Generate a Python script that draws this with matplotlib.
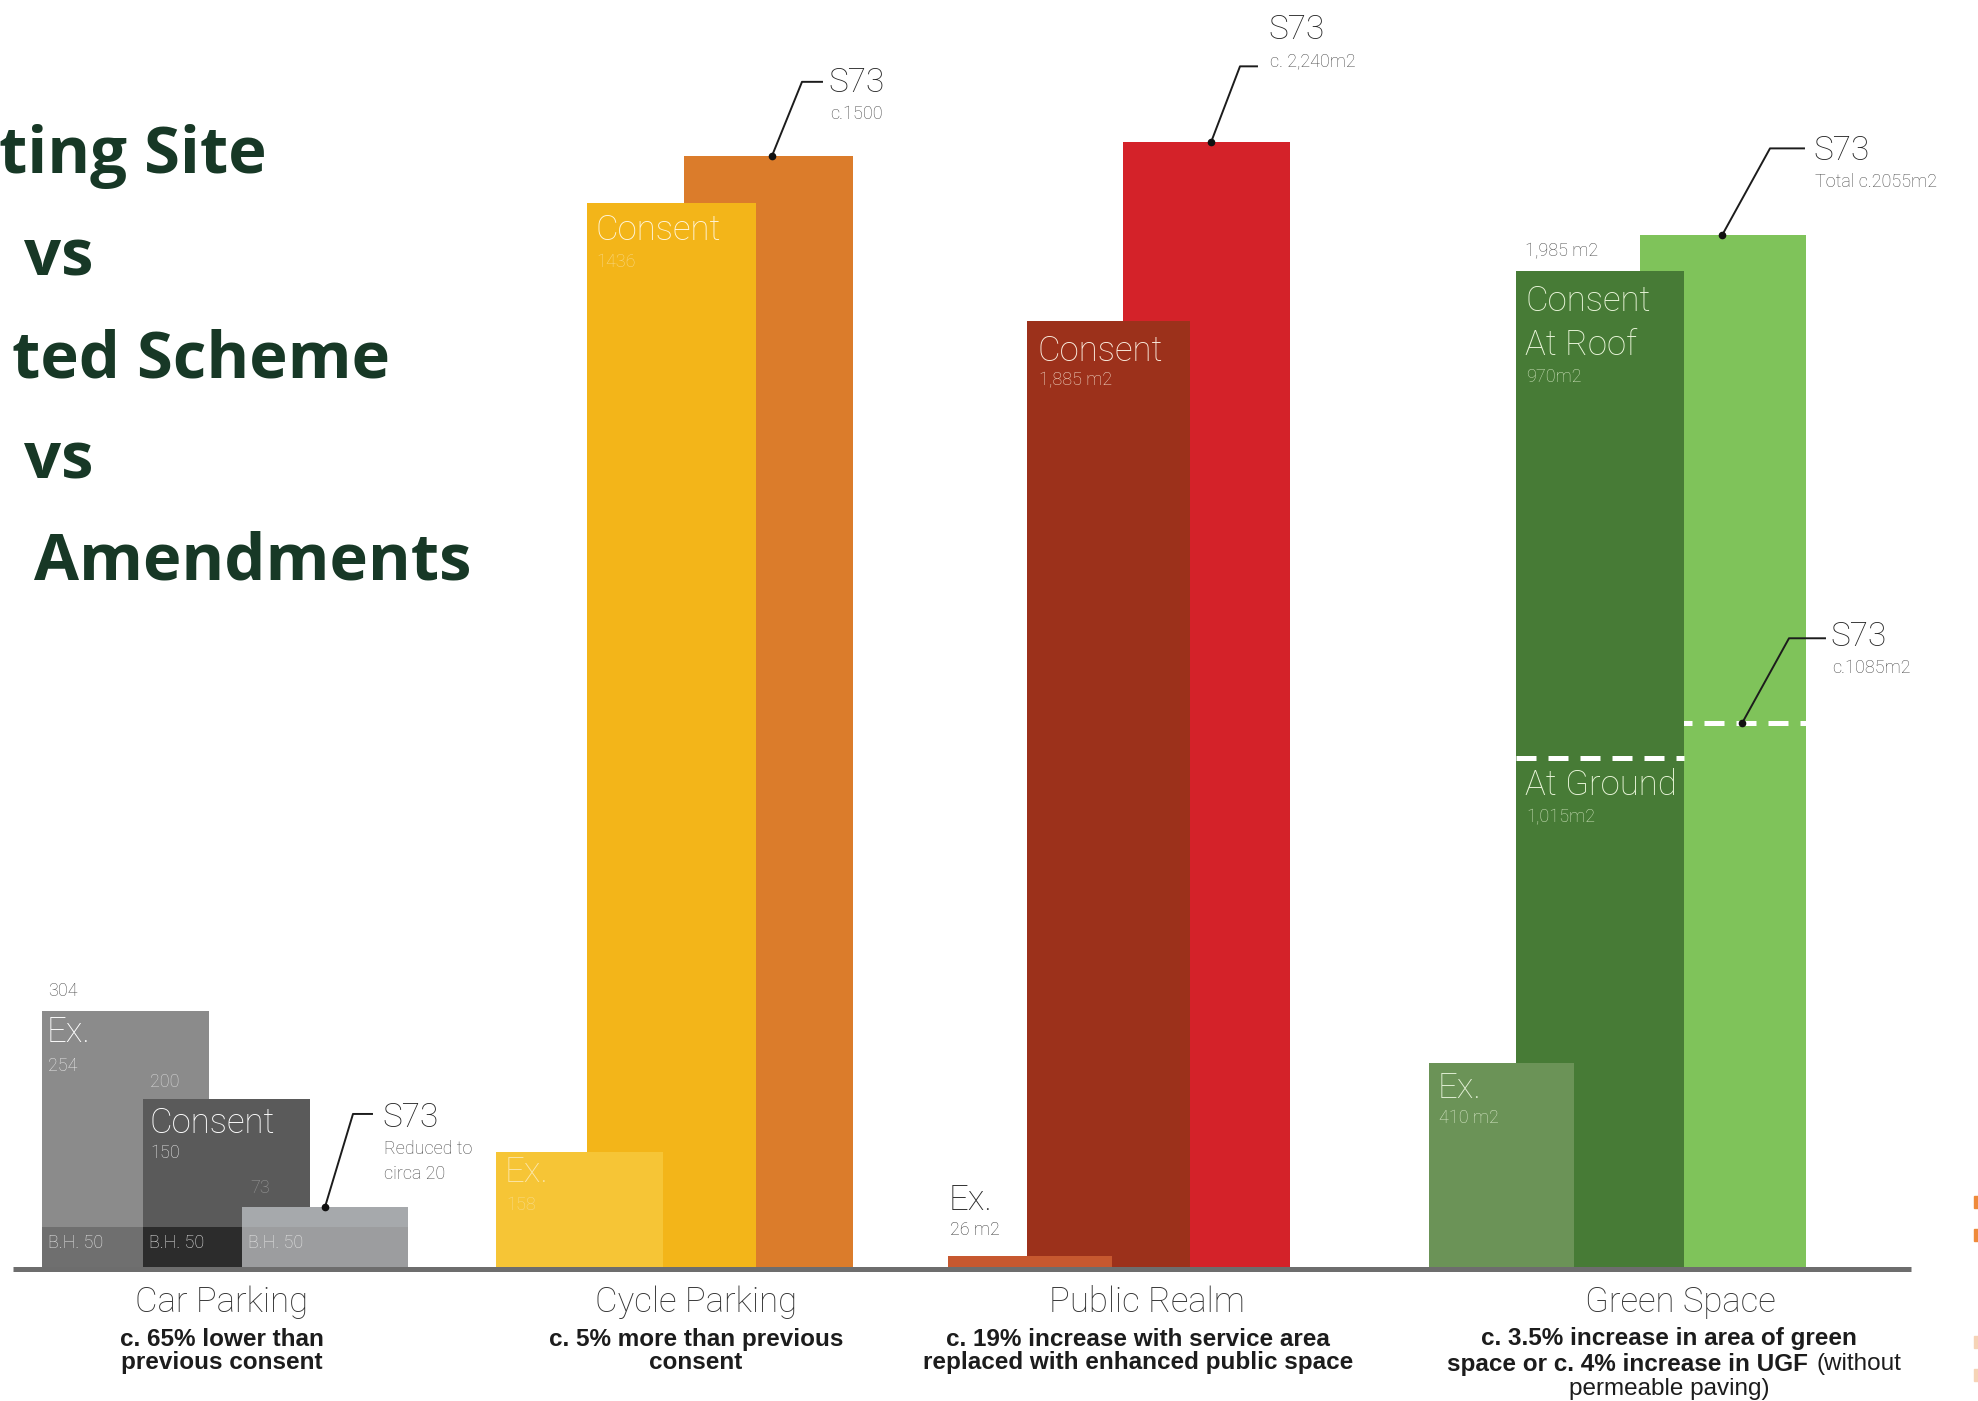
import matplotlib
matplotlib.use("Agg")
import matplotlib.pyplot as plt
from matplotlib.lines import Line2D
from matplotlib.patches import Rectangle
from matplotlib.transforms import IdentityTransform

W, H, DPI = 1978, 1401, 100
BASE = 1269  # baseline, pixels from top of the picture

# ---------------- data ----------------
groups = ["Car Parking", "Cycle Parking", "Public Realm", "Green Space"]
notes = ["c. 65% lower than\nprevious consent",
         "c. 5% more than previous\nconsent",
         "c. 19% increase with service area\nreplaced with enhanced public space"]
green_note_bold = ["c. 3.5% increase in area of green", "space or c. 4% increase in UGF"]
green_note_plain = ["(without", "permeable paving)"]

car_values = [304, 200, 73]        # Ex., Consent, S73 (spaces)
car_bh = [50, 50, 50]              # blue-badge share
cycle_values = [158, 1436, 1500]   # Ex., Consent, S73
realm_values = [26, 1885, 2240]    # m2
green_values = [410, 1985, 2055]   # m2
green_ground = [1015, 1085]        # Consent, S73 at ground level

# ---------------- layout / style ----------------
car_left, car_w = [42, 143, 242], [167, 167, 166]
cyc_left, cyc_w = [496, 587, 684], [167, 169, 169]
rlm_left, rlm_w = [948, 1027, 1123], [164, 163, 167]
grn_left, grn_w = [1429, 1516, 1640], [145, 168, 166]

car_col = ["#8b8b8b", "#5a5a5a", "#a6a9ac"]
car_bh_col = ["#6f6f6f", "#2c2c2c", "#9c9d9f"]
cyc_col = ["#f6c536", "#f3b519", "#db7c2b"]
rlm_col = ["#c7582f", "#9c311b", "#d42229"]
grn_col = ["#6b9357", "#477b36", "#7fc35a"]

LIGHT = dict(fontfamily="Roboto", fontweight="light")

fig = plt.figure(figsize=(W / DPI, H / DPI), dpi=DPI)
fig.patch.set_facecolor("white")


def panel(name, ymax):
    ax = fig.add_axes([0, 1 - BASE / H, 1, BASE / H], label=name)
    ax.set_xlim(0, W)
    ax.set_ylim(0, ymax)
    ax.axis("off")
    ax.patch.set_alpha(0)
    return ax


def lab(ax, s, x, y, dx, dy, size, color, **kw):
    style = dict(LIGHT)
    style.update(kw)
    ax.annotate(s, (x, y), xytext=(dx, dy), textcoords="offset pixels",
                ha="left", va="center", fontsize=size, color=color,
                annotation_clip=False, zorder=10, **style)


def leader(ax, x, y, pts):
    px, py = ax.transData.transform((x, y))
    xs = [px] + [px + a for a, b in pts]
    ys = [py] + [py + b for a, b in pts]
    fig.add_artist(Line2D(xs, ys, transform=IdentityTransform(), color="#1c1c1c", lw=1.4, zorder=20))
    fig.add_artist(Line2D([px], [py], transform=IdentityTransform(), marker="o", ms=4.5,
                          color="#111111", zorder=21))


def s73_label(ax, x, y, dot_dx, corner, end, tx, ty, sub):
    leader(ax, x + dot_dx, y, [corner, end])
    lab(ax, "S73", x + dot_dx, y, tx, ty, 24, "#262626")
    for i, line in enumerate(sub):
        lab(ax, line, x + dot_dx, y, tx + 2, ty - 31 - 25 * i, 13, "#4a4a4a")


# ---------------- car parking ----------------
ax = panel("car", 1493)
for i in range(3):
    ax.bar(car_left[i], car_values[i], width=car_w[i], align="edge", color=car_col[i], zorder=1 + i)
    ax.bar(car_left[i], car_bh[i], width=car_w[i], align="edge", color=car_bh_col[i], zorder=1.5 + i)
    lab(ax, "B.H. %d" % car_bh[i], car_left[i], car_bh[i], 6, -16, 13, "#e6e6e6")
lab(ax, str(car_values[0]), car_left[0], car_values[0], 6, 20, 13, "#4a4a4a")
lab(ax, "Ex.", car_left[0], car_values[0], 5, -22, 25, "white")
lab(ax, str(car_values[0] - car_bh[0]), car_left[0], car_values[0], 6, -55, 13, "#e8e8e8")
lab(ax, str(car_values[1]), car_left[1], car_values[1], 7, 17, 13, "#d9d9d9")
lab(ax, "Consent", car_left[1], car_values[1], 6, -24, 25, "white")
lab(ax, str(car_values[1] - car_bh[1]), car_left[1], car_values[1], 7, -54, 13, "#e8e8e8")
lab(ax, str(car_values[2]), car_left[2], car_values[2], 8, 19, 13, "#9a9a9a")
s73_label(ax, car_left[2], car_values[2], 83, (28, 93), (47, 93), 57, 89,
          ["Reduced to", "circa 20"])

# ---------------- cycle parking ----------------
ax = panel("cycle", 1710)
for i in range(3):
    ax.bar(cyc_left[i], cycle_values[i], width=cyc_w[i], align="edge", color=cyc_col[i], zorder=3 - i)
lab(ax, "Ex.", cyc_left[0], cycle_values[0], 9, -21, 25, "#fbe6a8")
lab(ax, str(cycle_values[0]), cyc_left[0], cycle_values[0], 10, -53, 13, "#f8dc8c")
lab(ax, "Consent", cyc_left[1], cycle_values[1], 8, -27, 25, "#fff6dc")
lab(ax, str(cycle_values[1]), cyc_left[1], cycle_values[1], 9, -59, 13, "#f8d98a")
s73_label(ax, cyc_left[2], cycle_values[2], 88, (30, 74), (50, 74), 56, 73, ["c.1500"])

# ---------------- public realm + green space ----------------
ax = panel("m2", 2523)
for i in range(3):
    ax.bar(rlm_left[i], realm_values[i], width=rlm_w[i], align="edge", color=rlm_col[i], zorder=3 - i)
lab(ax, "Ex.", rlm_left[0], realm_values[0], 1, 56, 25, "#2a2a2a")
lab(ax, "%d m2" % realm_values[0], rlm_left[0], realm_values[0], 2, 26, 13, "#3a3a3a")
lab(ax, "Consent", rlm_left[1], realm_values[1], 11, -30, 25, "#fbeee0")
lab(ax, "{:,} m2".format(realm_values[1]), rlm_left[1], realm_values[1], 12, -59, 13, "#f3dccb")
s73_label(ax, rlm_left[2], realm_values[2], 88, (29, 76), (46, 76), 57, 112,
          ["c. {:,}m2".format(realm_values[2])])

for i in range(3):
    ax.bar(grn_left[i], green_values[i], width=grn_w[i], align="edge", color=grn_col[i], zorder=3 - i)
for i, g in zip([1, 2], green_ground):
    ax.hlines(g, grn_left[i], grn_left[i] + grn_w[i], colors="white",
              linestyles=(0, (4, 2.4)), lw=3.6, zorder=3.5 - i)
lab(ax, "Ex.", grn_left[0], green_values[0], 9, -25, 25, "#e3f0d6")
lab(ax, "%d m2" % green_values[0], grn_left[0], green_values[0], 10, -55, 13, "#d8e8c8")
lab(ax, "{:,} m2".format(green_values[1]), grn_left[1], green_values[1], 9, 19, 13, "#4a4a4a")
lab(ax, "Consent", grn_left[1], green_values[1], 9, -31, 25, "#eaf6da")
lab(ax, "At Roof", grn_left[1], green_values[1], 9, -75, 25, "#eaf6da")
lab(ax, "%dm2" % (green_values[1] - green_ground[0]), grn_left[1], green_values[1], 10, -106, 13, "#cfe3bd")
lab(ax, "At Ground", grn_left[1], green_ground[0], 9, -27, 25, "#eaf6da")
lab(ax, "{:,}m2".format(green_ground[0]), grn_left[1], green_ground[0], 10, -59, 13, "#cfe3bd")
s73_label(ax, grn_left[2], green_values[2], 82, (48, 87), (82, 87), 91, 84,
          ["Total c.%dm2" % green_values[2]])
s73_label(ax, grn_left[2], green_ground[1], 102, (47, 85), (83, 85), 88, 86,
          ["c.%dm2" % green_ground[1]])

# baseline
ax.hlines(0, 13, 1911, colors="#6d6d6d", lw=3.6, zorder=30, clip_on=False)

# ---------------- captions ----------------
cap_x = [222, 696, 1147, 1680]
note_x = [222, 696, 1138]
for x, g in zip(cap_x, groups):
    fig.text(x / W, 1 - 1302 / H, g, ha="center", va="center", fontsize=25, color="#333333", **LIGHT)
for x, n in zip(note_x, notes):
    fig.text(x / W, 1 - 1351 / H, n, ha="center", va="center", fontsize=17.5, color="#1c1c1c",
             fontfamily="Liberation Sans", fontweight="bold", linespacing=1.05)
fig.text(1669 / W, 1 - 1338 / H, green_note_bold[0], ha="center", va="center", fontsize=17.5,
         color="#1c1c1c", fontfamily="Liberation Sans", fontweight="bold")
fig.text(1808 / W, 1 - 1364 / H, green_note_bold[1], ha="right", va="center", fontsize=17.5,
         color="#1c1c1c", fontfamily="Liberation Sans", fontweight="bold")
fig.text(1816 / W, 1 - 1364 / H, green_note_plain[0], ha="left", va="center", fontsize=17.5,
         color="#1c1c1c", fontfamily="Liberation Sans")
fig.text(1669 / W, 1 - 1389 / H, green_note_plain[1], ha="center", va="center", fontsize=17.5,
         color="#1c1c1c", fontfamily="Liberation Sans")

# ---------------- title (only the part inside the frame is visible) ----------------
title_lines = ["ting Site", "vs", "ted Scheme", "vs", "Amendments"]
title_right = [267, 93, 390, 93, 472]
title_base = [173, 275, 377, 478, 580]
for s, xr, yb in zip(title_lines, title_right, title_base):
    fig.text(xr / W, 1 - yb / H, s, ha="right", va="baseline", fontsize=47,
             color="#173826", fontfamily="Open Sans", fontweight="bold")

# small orange marks at the right edge
for y0, c in [(1196, "#ef8a3a"), (1229, "#ef8a3a"), (1336, "#f6d3b6"), (1369, "#f6d3b6")]:
    fig.patches.append(Rectangle((1974 / W, 1 - (y0 + 12) / H), 4 / W, 12 / H,
                                 transform=fig.transFigure, color=c, zorder=5))

fig.savefig("out.png", dpi=DPI, facecolor="white")
